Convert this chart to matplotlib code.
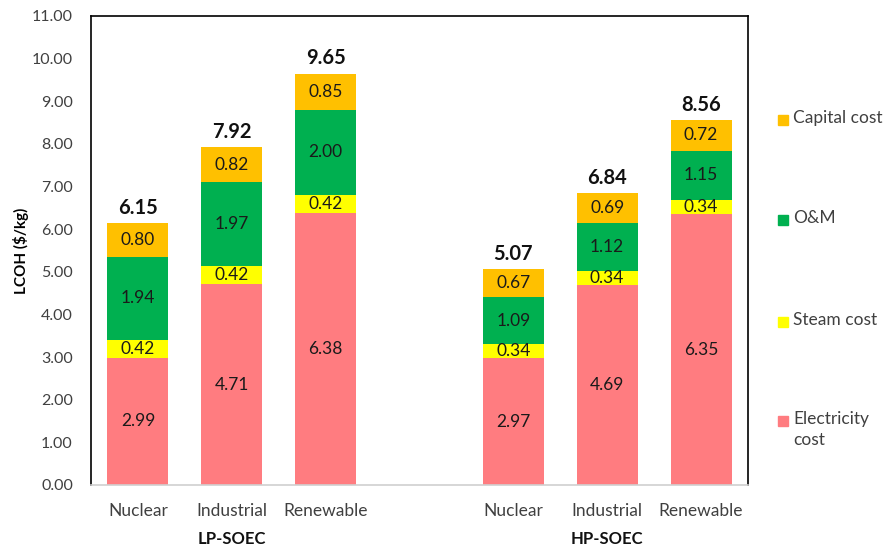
import matplotlib.pyplot as plt
from matplotlib.patches import Rectangle

plt.rcParams['font.family'] = ['Lato', 'DejaVu Sans']

groups = ['LP-SOEC', 'HP-SOEC']
sources = ['Nuclear', 'Industrial', 'Renewable']
positions = [0, 1, 2, 4, 5, 6]

electricity = [2.99, 4.71, 6.38, 2.97, 4.69, 6.35]
steam = [0.42, 0.42, 0.42, 0.34, 0.34, 0.34]
om = [1.94, 1.97, 2.00, 1.09, 1.12, 1.15]
capital = [0.80, 0.82, 0.85, 0.67, 0.69, 0.72]
totals = [6.15, 7.92, 9.65, 5.07, 6.84, 8.56]

series = [('Electricity\ncost', electricity, '#FF7C80'),
          ('Steam cost', steam, '#FFFF00'),
          ('O&M', om, '#00B050'),
          ('Capital cost', capital, '#FFC000')]

fig = plt.figure(figsize=(8.86, 5.49), dpi=100)
ax = fig.add_axes([0.1027, 0.1166, 0.7415, 0.8543])

bottom = [0] * len(positions)
for name, vals, col in series:
    ax.bar(positions, vals, 0.65, bottom=bottom, color=col)
    for x, b, v in zip(positions, bottom, vals):
        ax.text(x, b + v / 2, f'{v:.2f}', ha='center', va='center', fontsize=12.5,
                color='#1a1a1a')
    bottom = [b + v for b, v in zip(bottom, vals)]

for x, t in zip(positions, totals):
    ax.text(x, t + 0.12, f'{t:.2f}', ha='center', va='bottom', fontsize=14.5,
            fontweight='bold', color='#111111')

ax.set_xlim(-0.5, 6.5)
ax.set_ylim(0, 11)
ax.set_yticks(range(12))
ax.set_yticklabels([f'{v:.2f}' for v in range(12)], fontsize=11.5, color='#404040')
ax.set_xticks(positions)
ax.set_xticklabels(sources * 2, fontsize=12.5, color='#404040')
ax.tick_params(length=0)
ax.tick_params(axis='y', pad=13)
ax.tick_params(axis='x', pad=13)
ax.set_ylabel('LCOH ($/kg)', fontsize=11, fontweight='bold')
ax.yaxis.set_label_coords(-0.094, 0.5)

for s in ['left', 'top', 'right']:
    ax.spines[s].set_color('black')
    ax.spines[s].set_linewidth(1.2)
ax.spines['bottom'].set_color('#D0D0D0')
ax.spines['bottom'].set_linewidth(1.2)

for g, x in zip(groups, [1, 5]):
    ax.text(x, -1.27, g, ha='center', va='center', fontsize=12, fontweight='bold',
            color='#111111')

# legend on the right, top to bottom
leg_y = [421, 322, 220, 120]
for (name, vals, col), y in zip(series, leg_y):
    yf = 1 - y / 549
    fig.add_artist(Rectangle((778 / 886, yf - 5 / 549), 10 / 886, 10 / 549,
                             transform=fig.transFigure, color=col))
    fig.text(793 / 886, yf + 10 / 549, name, fontsize=12.5, va='top', ha='left',
             color='#404040', linespacing=1.35)

fig.savefig('out.png', dpi=100)
